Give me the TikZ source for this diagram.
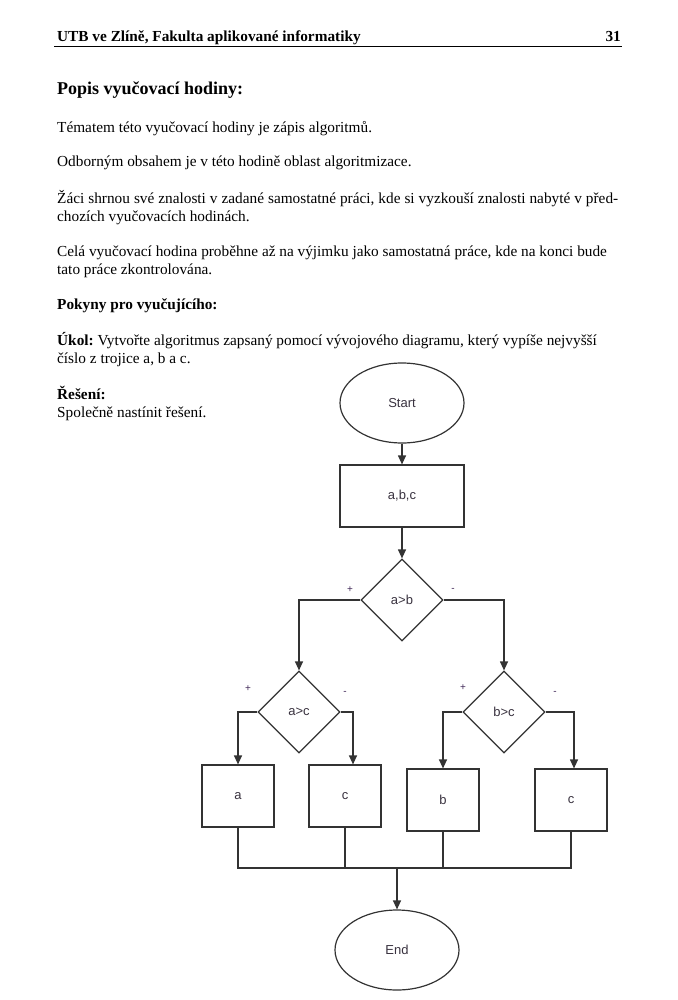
\documentclass[tikz,border=0pt]{standalone}
\usepackage{fontspec}
\setmainfont{Liberation Serif}
\newfontfamily\arialf{Liberation Sans}
\usetikzlibrary{shapes.geometric,arrows.meta,calc}
\definecolor{linec}{HTML}{333333}
\definecolor{fctext}{HTML}{3A3340}
\definecolor{signc}{HTML}{402858}
\frenchspacing
\begin{document}
\begin{tikzpicture}[x=1pt,y=-1pt,
  txt/.style={anchor=base west,inner sep=0pt,font=\fontsize{15.3}{18}\selectfont},
  btxt/.style={txt,font=\fontsize{15.3}{18}\selectfont\bfseries},
  fc/.style={draw=linec,line width=1.2pt,font=\arialf\fontsize{13}{15}\selectfont,text=fctext,inner sep=0pt},
  term/.style={fc,ellipse,minimum width=124pt,minimum height=80pt},
  proc/.style={fc,rectangle,minimum width=72pt,minimum height=62pt},
  dec/.style={fc,diamond,minimum width=82pt,minimum height=82pt,aspect=1},
  arr/.style={draw=linec,line width=1.2pt,-{Triangle[length=9pt,width=8pt]}},
  ln/.style={draw=linec,line width=1.2pt},
  sign/.style={inner sep=0pt,text=signc,font=\arialf\fontsize{10}{11}\selectfont}]
\useasboundingbox (0,0) rectangle (677,1000);
\fill[white] (0,0) rectangle (677,1000);
% header
\node[btxt] (hd) at (57,41.5) {UTB ve Zlíně, Fakulta aplikované informatiky};
\node[btxt,anchor=base east] (pg) at (621,41.5) {31};
\coordinate (rl) at (54,46);
\coordinate (rr) at (622,46);
\draw[line width=0.8pt] (rl) -- (rr);
% text
\node[txt,font=\fontsize{18}{21}\selectfont\bfseries] (t1) at (57,95) {Popis vyučovací hodiny:};
\node[txt] (t2) at (57,133) {Tématem této vyučovací hodiny je zápis algoritmů.};
\node[txt] (t3) at (57,167) {Odborným obsahem je v této hodině oblast algoritmizace.};
\node[txt] (t4) at (57,203.5) {\makebox[561pt][s]{Žáci shrnou své znalosti v zadané samostatné práci, kde si vyzkouší znalosti nabyté v před-}};
\node[txt] (t5) at (57,221.5) {chozích vyučovacích hodinách.};
\node[txt] (t6) at (57,256.5) {Celá vyučovací hodina proběhne až na výjimku jako samostatná práce, kde na konci bude};
\node[txt] (t7) at (57,274.5) {tato práce zkontrolována.};
\node[btxt] (t8) at (57,309.5) {Pokyny pro vyučujícího:};
\node[txt] (t9) at (57,345.5) {\textbf{Úkol:} Vytvořte algoritmus zapsaný pomocí vývojového diagramu, který vypíše nejvyšší};
\node[txt] (t10) at (57,363.5) {číslo z trojice a, b a c.};
\node[btxt] (t11) at (57,399.5) {Řešení:};
\node[txt] (t12) at (57,417.5) {Společně nastínit řešení.};
% flowchart
\node[term] (start) at (402,403) {Start};
\node[proc,minimum width=124pt] (inp) at (402,496) {a,b,c};
\node[dec] (d1) at (402,600) {a>b};
\node[dec] (d2) at (299,712) {a>c};
\node[dec] (d3) at (504,712) {b>c};
\node[proc] (ra) at (238,796) {a};
\node[proc] (rc1) at (345,796) {c};
\node[proc] (rb) at (443,800) {b};
\node[proc] (rc2) at (571,800) {c};
\node[term] (end) at (397,950) {End};
\coordinate (j) at (397,868);
\draw[arr] (start) -- (inp);
\draw[arr] (inp) -- (d1);
\draw[arr] (d1.west) -| (d2.north);
\draw[arr] (d1.east) -| (d3.north);
\draw[arr] (d2.west) -| (ra.north);
\draw[arr] (d2.east) -| ([xshift=8pt]rc1.north);
\draw[arr] (d3.west) -| (rb.north);
\draw[arr] (d3.east) -| ([xshift=3pt]rc2.north);
\draw[ln] (ra.south) -- (ra.south |- j) -- (rc2.south |- j) -- (rc2.south);
\draw[ln] (rc1.south) -- (rc1.south |- j);
\draw[ln] (rb.south) -- (rb.south |- j);
\draw[arr] (j) -- (end);
\node[sign] (p1) at (350,590) {+};
\node[sign] (m1) at (453,590) {-};
\node[sign] (p2) at (248,689) {+};
\node[sign] (m2) at (345,693) {-};
\node[sign] (p3) at (463,688) {+};
\node[sign] (m3) at (555,693) {-};
\end{tikzpicture}
\end{document}
